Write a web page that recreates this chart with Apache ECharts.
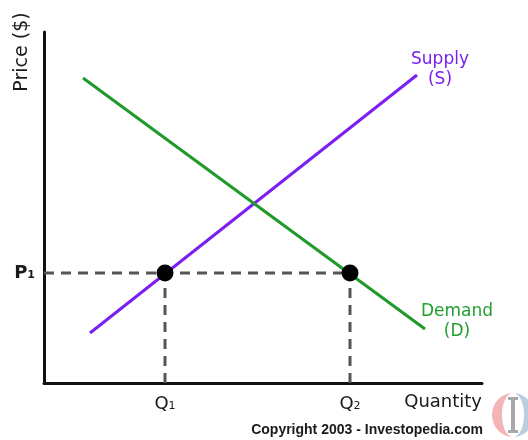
<!DOCTYPE html>
<html><head><meta charset="utf-8">
<script src="https://cdn.jsdelivr.net/npm/echarts@6/dist/echarts.min.js"></script>
<style>html,body{margin:0;padding:0;background:#fff}#c{width:528px;height:440px}</style>
</head><body><div id="c"></div>
<script>
// Data (chart units: quantity 0..438, price 0..351)
const supplyQ = [46, 373];
const supplyP = [50, 308];
const demandQ = [39, 381];
const demandP = [305, 54];
const equilibriumQ = [121, 306]; // Q1, Q2
const priceP1 = 110;
const xTickLabels = ['Q1', 'Q2'];
const yTickLabels = ['P1'];

const zip = (a, b) => a.map((v, i) => [v, b[i]]);
const sub = s => '{m|' + s.slice(0, 1) + '}{s|' + s.slice(1) + '}';
const FONT = 'DejaVu Sans';
const dashStyle = {color: '#555', width: 3, type: [10, 7]};

// logo crescent (decoration)
function crescent(cx, cy, rxOut, rxIn, ry, side) {
  const pts = [];
  for (let i = 0; i <= 24; i++) {
    const a = -Math.PI / 2 + Math.PI * i / 24;
    pts.push([cx + side * rxOut * Math.cos(a), cy + ry * Math.sin(a)]);
  }
  for (let i = 24; i >= 0; i--) {
    const a = -Math.PI / 2 + Math.PI * i / 24;
    pts.push([cx + side * rxIn * Math.cos(a), cy + ry * Math.sin(a)]);
  }
  return pts;
}

const chart = echarts.init(document.getElementById('c'), null, {renderer: 'canvas'});
chart.setOption({
  animation: false,
  grid: {left: 44, right: 46, top: 32, bottom: 57},
  xAxis: {
    type: 'value', min: 0, max: 438,
    splitLine: {show: false},
    axisTick: {show: false},
    axisLine: {lineStyle: {color: '#111', width: 3}},
    axisLabel: {
      customValues: equilibriumQ, margin: 12,
      formatter: v => sub(xTickLabels[equilibriumQ.indexOf(v)]),
      rich: {m: {fontFamily: FONT, fontSize: 18, color: '#1a1a1a'}, s: {fontFamily: FONT, fontSize: 11, color: '#1a1a1a', padding: [5, 0, 0, 0]}}
    },
    name: 'Quantity', nameLocation: 'end', nameGap: 0,
    nameTextStyle: {fontFamily: FONT, fontSize: 18, color: '#1a1a1a', align: 'right', verticalAlign: 'top', padding: [10, 0, 0, 0]}
  },
  yAxis: {
    type: 'value', min: 0, max: 351,
    splitLine: {show: false},
    axisTick: {show: false},
    axisLine: {lineStyle: {color: '#111', width: 3}},
    axisLabel: {
      customValues: [priceP1], margin: 9,
      formatter: v => sub(yTickLabels[0]),
      rich: {m: {fontFamily: FONT, fontSize: 18, fontWeight: 'bold', color: '#1a1a1a'}, s: {fontFamily: FONT, fontSize: 11, fontWeight: 'bold', color: '#1a1a1a', padding: [5, 0, 0, 0]}}
    }
  },
  series: [
    {type: 'line', data: [[0, priceP1], [equilibriumQ[1], priceP1]], symbol: 'none', lineStyle: dashStyle, z: 1},
    {type: 'line', data: [[equilibriumQ[0], 0], [equilibriumQ[0], priceP1]], symbol: 'none', lineStyle: dashStyle, z: 1},
    {type: 'line', data: [[equilibriumQ[1], 0], [equilibriumQ[1], priceP1]], symbol: 'none', lineStyle: dashStyle, z: 1},
    {type: 'line', data: zip(supplyQ, supplyP), symbol: 'none', lineStyle: {color: '#7a1ef2', width: 3}, z: 2},
    {type: 'line', data: zip(demandQ, demandP), symbol: 'none', lineStyle: {color: '#1f9a2a', width: 3}, z: 2},
    {type: 'scatter', data: equilibriumQ.map(q => [q, priceP1]), symbolSize: 17, itemStyle: {color: '#000', opacity: 1}, z: 3}
  ],
  graphic: [
    {type: 'text', x: 22, y: 52, rotation: Math.PI / 2, style: {text: 'Price ($)', fontFamily: FONT, fontSize: 19, fill: '#1a1a1a', align: 'center', verticalAlign: 'middle'}},
    {type: 'text', x: 440, y: 60, style: {text: 'Supply', fontFamily: FONT, fontSize: 17, fill: '#7a1ef2', align: 'center', verticalAlign: 'middle'}},
    {type: 'text', x: 440, y: 80, style: {text: '(S)', fontFamily: FONT, fontSize: 17, fill: '#7a1ef2', align: 'center', verticalAlign: 'middle'}},
    {type: 'text', x: 457, y: 312, style: {text: 'Demand', fontFamily: FONT, fontSize: 17, fill: '#22a030', align: 'center', verticalAlign: 'middle'}},
    {type: 'text', x: 457, y: 332, style: {text: '(D)', fontFamily: FONT, fontSize: 17, fill: '#22a030', align: 'center', verticalAlign: 'middle'}},
    {type: 'text', x: 483, y: 430, style: {text: 'Copyright 2003 - Investopedia.com', fontFamily: 'Liberation Sans', fontWeight: 'bold', fontSize: 14, fill: '#1a1a1a', align: 'right', verticalAlign: 'middle'}},
    {type: 'polygon', shape: {points: crescent(513, 415, 21, 11, 22, -1)}, style: {fill: '#f5b4b5'}},
    {type: 'polygon', shape: {points: crescent(513, 415, 21, 11, 22, 1)}, style: {fill: '#bccde2'}},
    {type: 'rect', shape: {x: 511, y: 399, width: 4, height: 32}, style: {fill: '#a8a8a8'}},
    {type: 'rect', shape: {x: 508, y: 397, width: 10, height: 3}, style: {fill: '#a8a8a8'}},
    {type: 'rect', shape: {x: 508, y: 430, width: 10, height: 3}, style: {fill: '#a8a8a8'}}
  ]
});
</script></body></html>
